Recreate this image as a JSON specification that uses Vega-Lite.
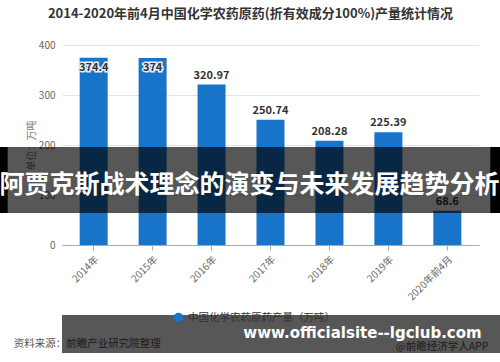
{
  "$schema": "https://vega.github.io/schema/vega-lite/v6.json",
  "width": 417,
  "height": 200,
  "autosize": {"type": "none"},
  "padding": {"left": 62, "top": 45, "right": 21, "bottom": 117},
  "background": "white",
  "title": {
    "text": "2014-2020年前4月中国化学农药原药(折有效成分100%)产量统计情况",
    "fontSize": 13,
    "fontWeight": "bold",
    "color": "#333333",
    "font": "Noto Sans CJK SC",
    "anchor": "middle",
    "dx": -20,
    "offset": 19
  },
  "config": {
    "view": {"stroke": null},
    "font": "Noto Sans CJK SC"
  },
  "datasets": {
    "main": [
      {"year": "2014年", "value": 374.4, "series": "中国化学农药原药产量（万吨）"},
      {"year": "2015年", "value": 374, "series": "中国化学农药原药产量（万吨）"},
      {"year": "2016年", "value": 320.97, "series": "中国化学农药原药产量（万吨）"},
      {"year": "2017年", "value": 250.74, "series": "中国化学农药原药产量（万吨）"},
      {"year": "2018年", "value": 208.28, "series": "中国化学农药原药产量（万吨）"},
      {"year": "2019年", "value": 225.39, "series": "中国化学农药原药产量（万吨）"},
      {"year": "2020年前4月", "value": 68.6, "series": "中国化学农药原药产量（万吨）"}
    ],
    "notes": [
      {"source": "资料来源：前瞻产业研究院整理", "brand": "@前瞻经济学人APP"}
    ],
    "overlay": [
      {"banner": "阿贾克斯战术理念的演变与未来发展趋势分析", "site": "www.officialsite--lgclub.com"}
    ]
  },
  "layer": [
    {
      "data": {"name": "main"},
      "mark": {"type": "bar"},
      "encoding": {
        "x": {
          "field": "year",
          "type": "nominal",
          "sort": null,
          "scale": {"paddingInner": 0.525, "paddingOuter": 0.3},
          "axis": {
            "title": null,
            "labelAngle": -45,
            "labelFontSize": 10,
            "labelColor": "#666666",
            "domainColor": "#aaaaaa",
            "tickColor": "#aaaaaa",
            "tickSize": 5,
            "labelPadding": 4,
            "grid": false
          }
        },
        "y": {
          "field": "value",
          "type": "quantitative",
          "scale": {"domain": [0, 400]},
          "axis": {
            "title": "单位：万吨",
            "values": [0, 100, 200, 300, 400],
            "grid": true,
            "gridColor": "#e3e3e3",
            "domain": false,
            "ticks": false,
            "labelColor": "#666666",
            "labelFontSize": 10,
            "labelPadding": 7,
            "titleColor": "#777777",
            "titleFontSize": 10,
            "titleFontWeight": "normal",
            "titlePadding": 2
          }
        },
        "color": {
          "field": "series",
          "type": "nominal",
          "scale": {"range": ["#1874c8"]},
          "legend": {
            "title": null,
            "orient": "none",
            "legendX": 111,
            "legendY": 267,
            "symbolType": "circle",
            "symbolSize": 90,
            "labelFontSize": 10.5,
            "labelColor": "#333333"
          }
        }
      }
    },
    {
      "data": {"name": "main"},
      "transform": [{"filter": "datum.value < 350"}],
      "mark": {"type": "text", "baseline": "bottom", "dy": -4, "fontSize": 11, "fontWeight": "bold", "color": "#333333"},
      "encoding": {
        "x": {"field": "year", "type": "nominal", "sort": null},
        "y": {"field": "value", "type": "quantitative"},
        "text": {"field": "value", "type": "nominal"}
      }
    },
    {
      "data": {"name": "main"},
      "transform": [{"filter": "datum.value >= 350"}],
      "mark": {"type": "text", "baseline": "top", "dy": 4, "fontSize": 11, "fontWeight": "bold", "color": "#ffffff", "stroke": "#e8eef5", "strokeWidth": 3},
      "encoding": {
        "x": {"field": "year", "type": "nominal", "sort": null},
        "y": {"field": "value", "type": "quantitative"},
        "text": {"field": "value", "type": "nominal"}
      }
    },
    {
      "data": {"name": "main"},
      "transform": [{"filter": "datum.value >= 350"}],
      "mark": {"type": "text", "baseline": "top", "dy": 4, "fontSize": 11, "fontWeight": "bold", "color": "#333333"},
      "encoding": {
        "x": {"field": "year", "type": "nominal", "sort": null},
        "y": {"field": "value", "type": "quantitative"},
        "text": {"field": "value", "type": "nominal"}
      }
    },
    {
      "data": {"name": "notes"},
      "mark": {"type": "text", "align": "left", "baseline": "middle", "dx": -80, "fontSize": 10.5, "color": "#555555"},
      "encoding": {
        "x": {"datum": "2014年"},
        "y": {"datum": -198},
        "text": {"field": "source"}
      }
    },
    {
      "data": {"name": "notes"},
      "mark": {"type": "text", "align": "right", "baseline": "middle", "dx": 41, "fontSize": 10.5, "color": "#555555"},
      "encoding": {
        "x": {"datum": "2020年前4月"},
        "y": {"datum": -204},
        "text": {"field": "brand"}
      }
    },
    {
      "data": {"name": "overlay"},
      "mark": {"type": "rect", "color": "#000000", "opacity": 0.66, "xOffset": -100, "x2Offset": 90},
      "encoding": {
        "x": {"datum": "2014年"},
        "x2": {"datum": "2020年前4月"},
        "y": {"datum": 196},
        "y2": {"datum": 64}
      }
    },
    {
      "data": {"name": "overlay"},
      "mark": {"type": "rect", "color": "#000000", "opacity": 1, "xOffset": -100, "x2Offset": -86},
      "encoding": {
        "x": {"datum": "2014年"},
        "x2": {"datum": "2014年"},
        "y": {"datum": 196},
        "y2": {"datum": 64}
      }
    },
    {
      "data": {"name": "overlay"},
      "mark": {"type": "rect", "color": "#000000", "opacity": 1, "xOffset": 43, "x2Offset": 90},
      "encoding": {
        "x": {"datum": "2020年前4月"},
        "x2": {"datum": "2020年前4月"},
        "y": {"datum": 196},
        "y2": {"datum": 64}
      }
    },
    {
      "data": {"name": "overlay"},
      "mark": {"type": "text", "align": "center", "baseline": "middle", "fontSize": 25, "fontWeight": "bold", "color": "#ffffff", "dx": -21},
      "encoding": {
        "y": {"datum": 121},
        "text": {"field": "banner"}
      }
    },
    {
      "data": {"name": "overlay"},
      "mark": {"type": "rect", "color": "#000000", "opacity": 0.66, "xOffset": 173, "x2Offset": 11},
      "encoding": {
        "y": {"datum": -140},
        "y2": {"datum": -216}
      }
    },
    {
      "data": {"name": "overlay"},
      "mark": {"type": "text", "align": "center", "baseline": "middle", "fontSize": 15, "fontWeight": "bold", "color": "#ffffff", "font": "DejaVu Sans", "dx": 92},
      "encoding": {
        "y": {"datum": -176},
        "text": {"field": "site"}
      }
    }
  ]
}
